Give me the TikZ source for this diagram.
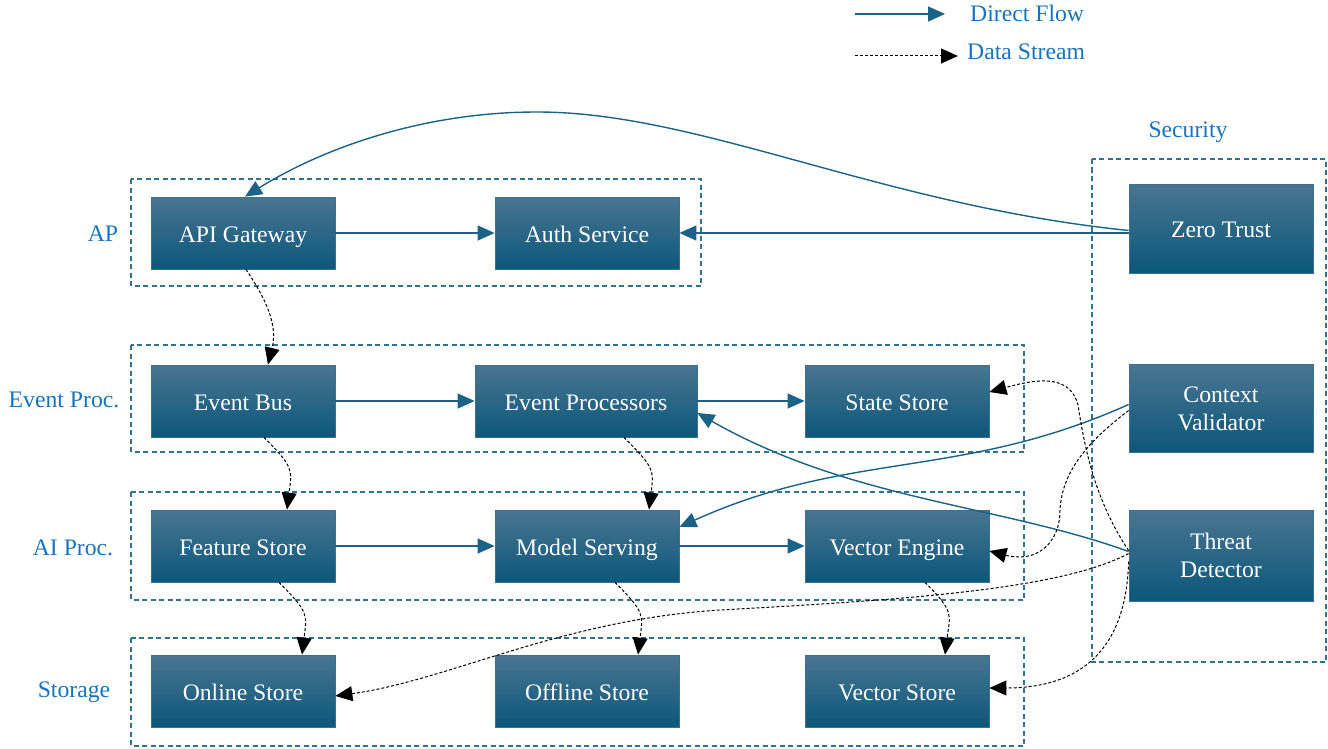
\documentclass[tikz,border=0pt]{standalone}
\usepackage{fontspec}
\setmainfont{Liberation Serif}
\usepackage{tikz}
\usetikzlibrary{shapes,arrows.meta,positioning,calc}
\usepackage{xcolor}

\definecolor{boxtop}{RGB}{74,117,145}
\definecolor{boxmid}{RGB}{20,98,134}
\definecolor{boxbot}{RGB}{11,87,122}
\definecolor{boxedge}{RGB}{60,112,142}
\definecolor{flowcol}{RGB}{26,98,134}
\definecolor{clustcol}{RGB}{48,114,146}
\definecolor{labcol}{RGB}{22,116,190}

\tikzset{
    svc/.style={rectangle, draw=boxedge, line width=0.8pt, top color=boxtop, middle color=boxmid, bottom color=boxbot,
        minimum width=184pt, minimum height=72pt, inner sep=0pt, text=white, align=center},
    oneline/.style={text height=18pt, text depth=0pt},
    cluster/.style={draw=clustcol, line width=1.2pt, dash pattern=on 5pt off 3.5pt},
    flow/.style={draw=flowcol, line width=1.4pt, -{Triangle[length=17pt,width=15pt]}},
    stream/.style={draw=black, line width=1pt, dash pattern=on 3pt off 2pt, -{Triangle[length=17pt,width=15pt]}},
    grplabel/.style={text=labcol, anchor=base}
}

\begin{document}
\begin{tikzpicture}[x=1pt, y=-1pt, font=\fontsize{23.7}{28}\selectfont]
    \useasboundingbox (0,0) rectangle (1328,749);

    % Legend
    \coordinate (lgA) at (855,14);
    \coordinate (lgB) at (945,14);
    \coordinate (lgC) at (855,56);
    \coordinate (lgD) at (958,56);
    \draw[flow] (lgA) -- (lgB);
    \draw[stream] (lgC) -- (lgD);
    \node[text=labcol, anchor=base west, inner sep=0pt] (lgflow) at (970,22) {Direct Flow};
    \node[text=labcol, anchor=base west, inner sep=0pt] (lgstream) at (967,60) {Data Stream};

    % Groups
    \draw[cluster] (131,179) rectangle (701,286);
    \draw[cluster] (131,345) rectangle (1024,452);
    \draw[cluster] (131,492) rectangle (1024,600);
    \draw[cluster] (131,638) rectangle (1024,746);
    \draw[cluster] (1092,159) rectangle (1326,662);
    \node[grplabel] (labap) at (103,241) {AP};
    \node[grplabel] (labevent) at (64,407) {Event Proc.};
    \node[grplabel] (labai) at (73,555) {AI Proc.};
    \node[grplabel] (labstore) at (74,697) {Storage};
    \node[grplabel] (labsec) at (1188,138) {Security};

    % Services
    \node[svc, oneline] (apigw) at (243,233) {API Gateway};
    \node[svc, oneline] (auth) at (587,233) {Auth Service};
    \node[svc, oneline] (evbus) at (243,401) {Event Bus};
    \node[svc, oneline, minimum width=222pt] (evproc) at (586,401) {Event Processors};
    \node[svc, oneline] (state) at (897,401) {State Store};
    \node[svc, oneline] (feature) at (243,546) {Feature Store};
    \node[svc, oneline] (model) at (587,546) {Model Serving};
    \node[svc, oneline] (vecengine) at (897,546) {Vector Engine};
    \node[svc, oneline] (online) at (243,691) {Online Store};
    \node[svc, oneline] (offline) at (587,691) {Offline Store};
    \node[svc, oneline] (vecstore) at (897,691) {Vector Store};
    % Security column
    \node[svc, oneline, minimum height=89pt] (zerotrust) at (1221,228.5) {Zero Trust};
    \node[svc, minimum height=88pt] (ctxval) at (1221,408.5) {Context\\Validator};
    \node[svc, minimum height=91pt] (threat) at (1221,555.5) {Threat\\Detector};

    % Direct flows
    \draw[flow] (apigw) -- (auth);
    \draw[flow] (evbus) -- (evproc);
    \draw[flow] (evproc) -- (state);
    \draw[flow] (feature) -- (model);
    \draw[flow] (model) -- (vecengine);
    \draw[flow] (zerotrust.west |- auth.east) -- (auth.east);
    \draw[flow] ([yshift=-2pt]zerotrust.west) .. controls (880,205) and (700,112) .. (537,112)
        .. controls (420,112) and (320,150) .. ([xshift=2pt]apigw.north);
    \draw[flow] ([yshift=4pt]ctxval.west) .. controls (960,480) and (850,450) .. ([yshift=19pt]model.east);
    \draw[flow] ([yshift=4pt]threat.west) .. controls (1000,505) and (850,500) .. ([yshift=-12pt]evproc.east);

    % Data streams
    \draw[stream] ([xshift=3pt]apigw.south) .. controls +(20,30) and +(10,-40) .. ([xshift=25pt]evbus.north);
    \draw[stream] ([xshift=21pt]evbus.south) .. controls +(30,30) and +(5,-40) .. ([xshift=44pt]feature.north);
    \draw[stream] ([xshift=38pt]evproc.south) .. controls +(30,30) and +(5,-40) .. ([xshift=62pt]model.north);
    \draw[stream] ([xshift=36pt]feature.south) .. controls +(30,30) and +(5,-40) .. ([xshift=59pt]online.north);
    \draw[stream] ([xshift=28pt]model.south) .. controls +(30,30) and +(5,-40) .. ([xshift=51pt]offline.north);
    \draw[stream] ([xshift=28pt]vecengine.south) .. controls +(30,30) and +(5,-40) .. ([xshift=48pt]vecstore.north);
    \draw[stream] ([yshift=-2pt]ctxval.west) .. controls (1090,440) and (1062,470) .. (1060,510)
        .. controls (1060,545) and (1035,563) .. ([yshift=-5pt]vecengine.east);
    \draw[stream] ([yshift=5pt]threat.west) .. controls (1095,500) and (1085,450) .. (1078,405)
        .. controls (1070,375) and (1040,378) .. ([yshift=9pt]state.east);
    \draw[stream] ([yshift=2pt]threat.west) .. controls (1060,590) and (900,600) .. (720,610)
        .. controls (560,620) and (450,680) .. ([yshift=-5pt]online.east);
    \draw[stream] ([yshift=-6pt]threat.west) .. controls (1126,660) and (1070,688) .. ([yshift=3pt]vecstore.east);
\end{tikzpicture}
\end{document}
